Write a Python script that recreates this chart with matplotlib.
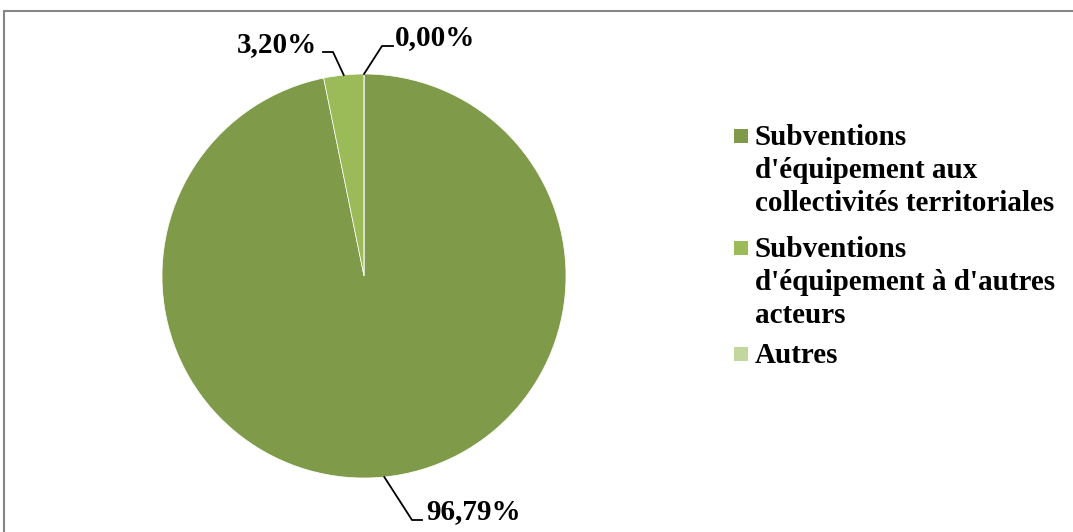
import matplotlib.pyplot as plt
from matplotlib.patches import Rectangle
from matplotlib.lines import Line2D
import numpy as np

# shares of the budget line (percent)
categories = ["Subventions\nd'équipement aux\ncollectivités territoriales",
              "Subventions\nd'équipement à d'autres\nacteurs",
              "Autres"]
values = [96.79, 3.20, 0.00]
value_labels = ["96,79%", "3,20%", "0,00%"]
colors = ["#7F9B4A", "#9BBB59", "#C3D69B"]

W, H = 1073, 532
fig = plt.figure(figsize=(W / 100, H / 100), dpi=100)
font = dict(family="Liberation Serif", weight="bold", size=21)

def px(x, y):
    # pixel position measured from top-left -> figure fraction
    return x / W, 1 - y / H

# outer chart frame
fig.add_artist(Rectangle(px(4, 545), (1090 - 4) / W, (545 - 11) / H,
                         fill=False, edgecolor="#868686", linewidth=1.5,
                         transform=fig.transFigure))

# pie area: centre (364, 276), radius 202 px
cx, cy, r = 364, 276, 202
ax = fig.add_axes([(cx - r) / W, 1 - (cy + r) / H, 2 * r / W, 2 * r / H])
wedges, _ = ax.pie(values, colors=colors, startangle=90, counterclock=False,
                   radius=1, wedgeprops=dict(edgecolor="white", linewidth=0.5))
ax.set_xlim(-1, 1)
ax.set_ylim(-1, 1)
ax.axis("off")

# label text positions (centre x, centre y) and elbow points, in pixels
label_pos = [(474, 512), (277, 45), (435, 38)]
elbows = [((412, 520), (422, 520)),
          ((333, 52), (323, 52)),
          ((382, 46), (393, 46))]

inv = fig.transFigure.inverted()
for w, lab, (tx, ty), (e1, e2) in zip(wedges, value_labels, label_pos, elbows):
    mid = np.deg2rad((w.theta1 + w.theta2) / 2)
    edge = inv.transform(ax.transData.transform((np.cos(mid), np.sin(mid))))
    p1 = px(*e1)
    p2 = px(*e2)
    fig.add_artist(Line2D([edge[0], p1[0], p2[0]], [edge[1], p1[1], p2[1]],
                          color="black", linewidth=1.3,
                          transform=fig.transFigure))
    fig.text(*px(tx, ty), lab, ha="center", va="center", **font)

# legend, squares aligned with the first line of each entry
legend_y = [136, 248, 354]
for lab, col, ly in zip(categories, colors, legend_y):
    fig.add_artist(Rectangle(px(734, ly + 7), 14 / W, 14 / H, facecolor=col,
                             edgecolor="none", transform=fig.transFigure))
    fig.text(*px(755, ly - 12), lab, ha="left", va="top",
             linespacing=1.28, **font)

fig.savefig("out.png", dpi=100)
